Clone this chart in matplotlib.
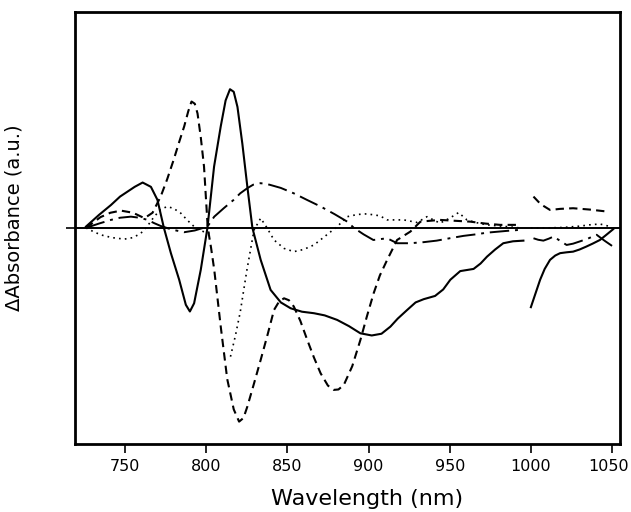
import numpy as np
import matplotlib
matplotlib.use("Agg")
import matplotlib.pyplot as plt
import matplotlib.transforms as mtransforms

nan = np.nan

# solid curve (gap between 995 and 1000 nm)
solid_nm = [726, 734, 741.4, 747, 751.6, 756, 760.9, 766, 770, 774, 778.3, 783.4, 787.5, 790, 792.6,
            796.7, 800.8, 804.9, 809, 812, 814.7, 817, 819.3, 822.3, 825.4, 828.5, 833.6, 839.7, 846,
            852, 859, 866.4, 873, 880.7, 888, 895, 902, 908, 913.5, 918, 923.8, 929, 934, 941, 946,
            950.4, 956.5, 964.7, 969, 973, 978, 983, 989, 995.4,
            nan,
            1000, 1003, 1005.7, 1008.5, 1011.8, 1015, 1018, 1022, 1026, 1030, 1034, 1038, 1042.5, 1046,
            1050.7]
solid_v = [0.006, 0.06, 0.106, 0.145, 0.168, 0.19, 0.21, 0.19, 0.13, 0.0, -0.117, -0.24, -0.356, -0.387,
           -0.349, -0.194, 0.0, 0.284, 0.47, 0.59, 0.642, 0.63, 0.56, 0.39, 0.19, 0.0, -0.148, -0.287,
           -0.345, -0.372, -0.388, -0.395, -0.405, -0.426, -0.455, -0.488, -0.498, -0.49, -0.457, -0.42,
           -0.38, -0.345, -0.33, -0.315, -0.285, -0.24, -0.2, -0.19, -0.165, -0.133, -0.1, -0.071,
           -0.062, -0.059,
           nan,
           -0.367, -0.3, -0.24, -0.19, -0.148, -0.128, -0.117, -0.113, -0.11, -0.1, -0.087, -0.073,
           -0.056, -0.035, -0.006]

# dashed curve
dashed_nm = [726, 735, 741, 747.5, 755, 762, 767, 772, 776, 780, 783.5, 786.5, 789, 791, 793, 794.7,
             796.7, 798.7, 801, 803, 805, 809, 813, 817, 820.3, 823, 825.4, 829.5, 833.6, 838, 841.8,
             845, 848, 851, 854, 858, 862.3, 866.4, 870.5, 875, 878.6, 881.5, 884.8, 890, 895, 899,
             903.2, 907, 911.5, 917.6, 925.8, 932, 944, 953, 962.6, 972, 981, 993.4,
             nan,
             1001.6, 1006, 1011.8, 1018, 1026, 1036, 1047.7]
dashed_v = [0.0, 0.05, 0.07, 0.08, 0.07, 0.045, 0.07, 0.145, 0.225, 0.315, 0.4, 0.47, 0.54, 0.585, 0.575,
            0.53, 0.42, 0.284, 0.0, -0.09, -0.194, -0.457, -0.7, -0.84, -0.897, -0.88, -0.827, -0.72,
            -0.611, -0.49, -0.38, -0.34, -0.326, -0.335, -0.364, -0.43, -0.519, -0.6, -0.673, -0.73,
            -0.75, -0.748, -0.727, -0.64, -0.519, -0.41, -0.302, -0.22, -0.148, -0.056, -0.017, 0.029,
            0.037, 0.033, 0.029, 0.02, 0.014, 0.014,
            nan,
            0.145, 0.11, 0.083, 0.088, 0.091, 0.085, 0.075]

# dash-dot curve
dashdot_nm = [726, 734, 741.4, 747, 753.7, 759, 764, 768, 772, 779, 786.5, 793, 800.8, 805, 811, 817,
              821, 825.4, 829, 833.6, 839, 846, 854, 862, 870.5, 879, 886.9, 891, 897, 903, 911.5,
              917.6, 925.8, 934, 942, 950, 958.5, 966, 973, 979, 985, 993.4,
              nan,
              1001.6, 1004.5, 1007.7, 1011, 1014, 1018, 1022, 1026, 1030, 1035, 1040.5, 1045.5,
              1050.7]
dashdot_v = [0.0, 0.02, 0.037, 0.047, 0.052, 0.047, 0.037, 0.022, 0.009, -0.008, -0.02, -0.012, 0.006,
             0.052, 0.092, 0.13, 0.16, 0.184, 0.2, 0.207, 0.2, 0.185, 0.16, 0.13, 0.099, 0.064, 0.029,
             0.0, -0.03, -0.056, -0.048, -0.071, -0.071, -0.066, -0.059, -0.048, -0.037, -0.03,
             -0.022, -0.018, -0.014, -0.009,
             nan,
             -0.048, -0.055, -0.059, -0.05, -0.04, -0.06, -0.079, -0.073, -0.063, -0.05, -0.032,
             -0.06, -0.087]

# dotted curve (jump near 805-815 nm)
dotted_nm = [726, 730, 735, 742, 749.6, 755, 759.8, 764, 768, 772, 776, 780, 784.4, 788.5, 792.6, 796.7,
             800.8, 804,
             nan,
             815, 818, 821, 825, 829.5, 833.6, 837.5, 841.8, 848, 854, 860, 866.4, 873, 880.7, 887,
             893, 899, 907, 911.5, 921.7, 930, 936, 944, 950, 955.5, 960.6, 966, 973, 985, 993,
             nan,
             1000, 1010, 1020, 1030, 1036, 1042.5, 1049]
dotted_v = [0.0, -0.015, -0.032, -0.045, -0.052, -0.045, -0.025, 0.01, 0.052, 0.085, 0.099, 0.09, 0.068,
            0.035, 0.006, -0.012, -0.025, -0.02,
            nan,
            -0.596, -0.5, -0.39, -0.2, -0.01, 0.045, 0.0, -0.056, -0.095, -0.11, -0.1, -0.079, -0.04,
            0.006, 0.052, 0.062, 0.065, 0.056, 0.037, 0.037, 0.025, 0.052, 0.022, 0.045, 0.071, 0.037,
            0.025, 0.014, 0.006, 0.0,
            nan,
            0.0, 0.0, 0.002, 0.008, 0.014, 0.018, 0.006]

xticks = [750, 800, 850, 900, 950, 1000, 1050]

fig = plt.figure(figsize=(6.31, 5.12), dpi=100)
ax = fig.add_axes([0.119, 0.133, 0.8636, 0.8438])

ax.axhline(0, color="black", lw=1.4, zorder=1)
ax.plot(solid_nm, solid_v, color="black", lw=1.5, ls="-")
ax.plot(dashed_nm, dashed_v, color="black", lw=1.5, ls=(0, (4, 2.5)))
ax.plot(dashdot_nm, dashdot_v, color="black", lw=1.4, ls=(0, (10, 3, 1.5, 3)))
ax.plot(dotted_nm, dotted_v, color="black", lw=1.2, ls=(0, (1, 2.5)))

ax.set_xlim(719.3, 1054.9)
ax.set_ylim(-1, 1)
ax.set_xticks(xticks)
ax.set_xticklabels([str(t) for t in xticks], fontsize=11.5)
ax.set_yticks([0])
ax.set_yticklabels([""])
ax.tick_params(direction="out", length=6.5, width=1.2, pad=4.5)
for s in ax.spines.values():
    s.set_linewidth(2)

# keep the last tick label inside the figure
last = ax.get_xticklabels()[-1]
last.set_transform(last.get_transform() + mtransforms.ScaledTranslation(-4 / 100, 0, fig.dpi_scale_trans))

ax.set_xlabel("Wavelength (nm)", fontsize=16)
ax.xaxis.set_label_coords(0.536, -0.105)
ax.set_ylabel("ΔAbsorbance (a.u.)", fontsize=14)
ax.yaxis.set_label_coords(-0.095, 0.523)

fig.savefig("out.png", dpi=100)
